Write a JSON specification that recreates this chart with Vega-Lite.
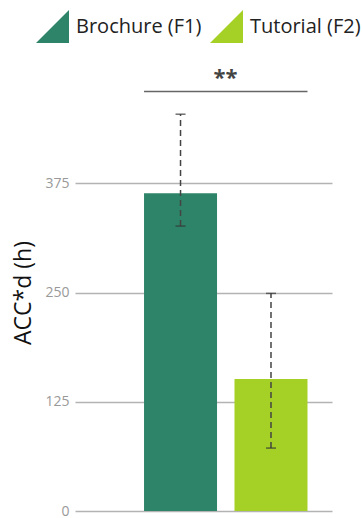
{
  "$schema": "https://vega.github.io/schema/vega-lite/v6.json",
  "width": 257,
  "height": 437,
  "autosize": {"type": "none"},
  "padding": {"left": 75, "top": 74, "right": 30, "bottom": 7},
  "config": {"view": {"stroke": null}, "font": "Open Sans"},
  "datasets": {
    "bars": [
      {"group": "Brochure (F1)", "value": 363.5, "lo": 326, "hi": 454},
      {"group": "Tutorial (F2)", "value": 151, "lo": 72, "hi": 249}
    ],
    "sig": [
      {"a": "Brochure (F1)", "b": "Tutorial (F2)", "y": 480, "ys": 495, "label": "**"}
    ]
  },
  "layer": [
    {
      "data": {"name": "bars"},
      "mark": {"type": "bar"},
      "encoding": {
        "x": {"field": "group", "type": "nominal", "axis": null,
              "scale": {"paddingInner": 0.193, "paddingOuter": 0.517, "align": 0.738}},
        "y": {"field": "value", "type": "quantitative",
              "scale": {"domain": [0, 500]},
              "axis": {"values": [0, 125, 250, 375], "grid": true, "gridColor": "#b3b3b3", "gridWidth": 1.5,
                       "ticks": false, "domain": false, "labelColor": "#999999", "labelFontSize": 14,
                       "labelPadding": 6, "title": "ACC*d (h)", "titleFontSize": 23, "titleColor": "#111111",
                       "titleFontWeight": "normal", "titlePadding": 9}},
        "color": {"field": "group", "type": "nominal",
                  "scale": {"domain": ["Brochure (F1)", "Tutorial (F2)"], "range": ["#2e8468", "#a5d126"]},
                  "legend": {"title": null, "orient": "none", "legendX": -39, "legendY": -64, "direction": "horizontal",
                             "symbolType": "M-1,1L1,1L1,-1Z", "symbolSize": 1089, "symbolStrokeWidth": 0,
                             "symbolOpacity": 1, "labelFontSize": 20, "labelColor": "#222222", "labelOffset": 7,
                             "columnPadding": 8}}
      }
    },
    {
      "data": {"name": "bars"},
      "mark": {"type": "rule", "strokeDash": [6, 4], "color": "#444444", "strokeWidth": 1.5},
      "encoding": {
        "x": {"field": "group", "type": "nominal"},
        "y": {"field": "lo", "type": "quantitative"},
        "y2": {"field": "hi"}
      }
    },
    {
      "data": {"name": "bars"},
      "mark": {"type": "tick", "color": "#333333", "size": 10, "thickness": 1.5},
      "encoding": {
        "x": {"field": "group", "type": "nominal"},
        "y": {"field": "hi", "type": "quantitative"}
      }
    },
    {
      "data": {"name": "bars"},
      "mark": {"type": "tick", "color": "#333333", "size": 10, "thickness": 1.5},
      "encoding": {
        "x": {"field": "group", "type": "nominal"},
        "y": {"field": "lo", "type": "quantitative"}
      }
    },
    {
      "data": {"name": "sig"},
      "mark": {"type": "rule", "color": "#666666", "strokeWidth": 1.5},
      "encoding": {
        "x": {"field": "a", "type": "nominal", "bandPosition": 0},
        "x2": {"field": "b", "bandPosition": 1},
        "y": {"field": "y", "type": "quantitative"}
      }
    },
    {
      "data": {"name": "sig"},
      "mark": {"type": "text", "color": "#444444", "fontSize": 22, "fontWeight": "bold", "baseline": "middle", "align": "center"},
      "encoding": {
        "x": {"field": "a", "type": "nominal", "bandPosition": 1.116},
        "y": {"field": "ys", "type": "quantitative"},
        "text": {"field": "label"}
      }
    }
  ]
}
